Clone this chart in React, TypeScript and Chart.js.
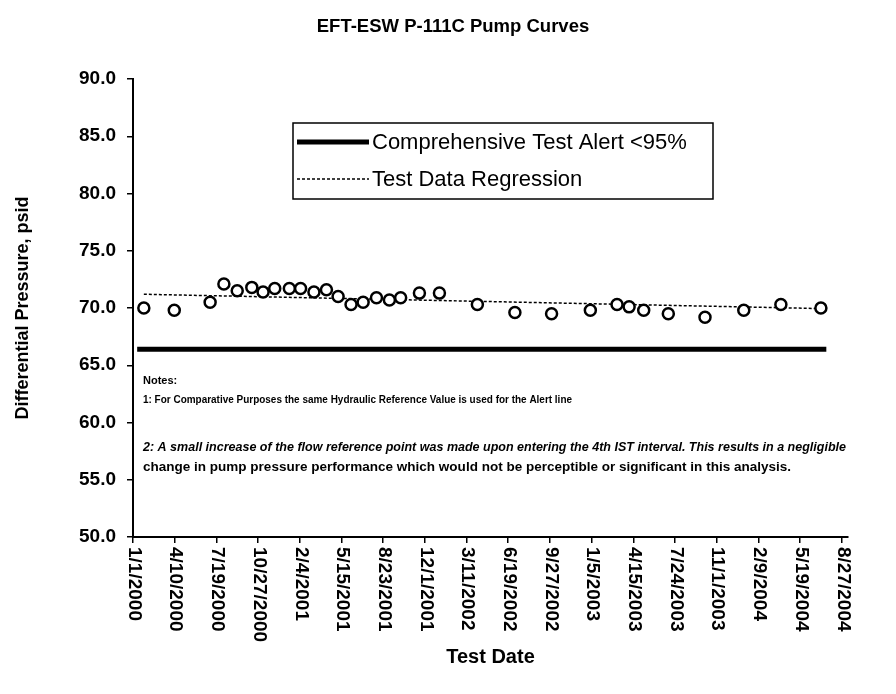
import React, { useEffect, useRef } from "react";
import { Chart, registerables } from "chart.js";

Chart.register(...registerables);

// ---- data ----
const xTickLabels = [
  "1/1/2000", "4/10/2000", "7/19/2000", "10/27/2000", "2/4/2001", "5/15/2001",
  "8/23/2001", "12/1/2001", "3/11/2002", "6/19/2002", "9/27/2002", "1/5/2003",
  "4/15/2003", "7/24/2003", "11/1/2003", "2/9/2004", "5/19/2004", "8/27/2004",
];
const yTickValues = [50, 55, 60, 65, 70, 75, 80, 85, 90];

const testDates = [
  "1/27/2000", "4/9/2000", "7/4/2000", "8/6/2000", "9/7/2000", "10/12/2000",
  "11/8/2000", "12/6/2000", "1/10/2001", "2/6/2001", "3/10/2001", "4/9/2001",
  "5/7/2001", "6/7/2001", "7/6/2001", "8/7/2001", "9/7/2001", "10/4/2001",
  "11/18/2001", "1/5/2002", "4/6/2002", "7/5/2002", "10/1/2002", "1/2/2003",
  "3/7/2003", "4/5/2003", "5/10/2003", "7/8/2003", "10/4/2003", "1/5/2004",
  "4/3/2004", "7/8/2004",
];
const testPressures = [
  70.0, 69.8, 70.5, 72.1, 71.5, 71.8, 71.4, 71.7, 71.7, 71.7, 71.4, 71.6,
  71.0, 70.3, 70.5, 70.9, 70.7, 70.9, 71.3, 71.3, 70.3, 69.6, 69.5, 69.8,
  70.3, 70.1, 69.8, 69.5, 69.2, 69.8, 70.3, 70.0,
];

const alertDates = ["1/11/2000", "7/21/2004"];
const alertValues = [66.4, 66.4];

const regressionDates = ["1/27/2000", "7/8/2004"];
const regressionValues = [71.2, 69.95];

const titleText = "EFT-ESW P-111C Pump Curves";
const yTitle = "Differential Pressure, psid";
const xTitle = "Test Date";
const alertLabel = "Comprehensive Test Alert <95%";
const regressionLabel = "Test Data Regression";
const notesLines = [
  "Notes:",
  "1: For Comparative Purposes the same Hydraulic Reference Value is used for the Alert line",
  "2: A small increase of the flow reference point was made upon entering the 4th IST interval. This results in a negligible",
  "change in pump pressure performance which would not be perceptible or significant in this analysis.",
];

// ---- helpers ----
const toDay = (s: string) => {
  const [m, d, y] = s.split("/").map(Number);
  return Math.round((Date.UTC(y, m - 1, d) - Date.UTC(2000, 0, 1)) / 86400000);
};
const pts = (dates: string[], vals: number[]) =>
  dates.map((d, i) => ({ x: toDay(d), y: vals[i] }));

const FONT = "'Liberation Sans', Arial, sans-serif";

function fitText(ctx: CanvasRenderingContext2D, text: string, x: number, y: number, w: number | null, font: string) {
  ctx.font = font;
  const m = ctx.measureText(text).width;
  ctx.save();
  ctx.translate(x, y);
  if (w) ctx.scale(w / m, 1);
  ctx.fillText(text, 0, 0);
  ctx.restore();
}

const overlayPlugin = {
  id: "overlay",
  afterDraw(chart: any) {
    const ctx: CanvasRenderingContext2D = chart.ctx;
    const ca = chart.chartArea;
    const xs = chart.scales.x;
    ctx.save();
    ctx.fillStyle = "#000";
    ctx.strokeStyle = "#000";

    // title
    ctx.font = `bold 18.5px ${FONT}`;
    ctx.textAlign = "center";
    ctx.textBaseline = "middle";
    ctx.fillText(titleText, 445, 19);

    // rotated x tick labels (reading top to bottom)
    ctx.font = `bold 19px ${FONT}`;
    ctx.textAlign = "left";
    ctx.textBaseline = "middle";
    xs.ticks.forEach((t: any, i: number) => {
      const x = xs.getPixelForValue(t.value);
      const label = xTickLabels[i];
      if (!label) return;
      ctx.save();
      ctx.translate(x + 1, ca.bottom + 10);
      ctx.rotate(Math.PI / 2);
      ctx.fillText(label, 0, 0);
      ctx.restore();
    });

    // notes
    ctx.textBaseline = "middle";
    const nx = ca.left + 10;
    fitText(ctx, notesLines[0], nx, ca.top + 302, null, `bold 11px ${FONT}`);
    fitText(ctx, notesLines[1], nx, ca.top + 321, 429, `bold 11px ${FONT}`);
    fitText(ctx, notesLines[2], nx, ca.top + 368, 703, `italic bold 13px ${FONT}`);
    fitText(ctx, notesLines[3], nx, ca.top + 388, 648, `bold 13px ${FONT}`);

    // legend box
    const bx = ca.left + 160, by = ca.top + 44, bw = 420, bh = 76;
    ctx.lineWidth = 1.5;
    ctx.strokeRect(bx, by, bw, bh);
    const ds = chart.data.datasets;
    const rows = [
      { y: by + 19, ds: ds[0] },
      { y: by + 56, ds: ds[1] },
    ];
    rows.forEach((r) => {
      ctx.save();
      ctx.lineWidth = r.ds.borderWidth;
      ctx.setLineDash(r.ds.borderDash || []);
      ctx.beginPath();
      ctx.moveTo(bx + 4, r.y);
      ctx.lineTo(bx + 76, r.y);
      ctx.stroke();
      ctx.restore();
      ctx.font = `22px ${FONT}`;
      ctx.textAlign = "left";
      ctx.fillText(r.ds.label, bx + 79, r.y + 1);
    });
    ctx.restore();
  },
};

export default function App() {
  const ref = useRef<HTMLCanvasElement>(null);
  useEffect(() => {
    if (!ref.current) return;
    const chart = new Chart(ref.current, {
      type: "scatter",
      data: {
        datasets: [
          {
            label: alertLabel,
            data: pts(alertDates, alertValues),
            showLine: true,
            borderColor: "#000",
            borderWidth: 5,
            pointRadius: 0,
            order: 3,
          } as any,
          {
            label: regressionLabel,
            data: pts(regressionDates, regressionValues),
            showLine: true,
            borderColor: "#000",
            borderWidth: 1.5,
            borderDash: [3, 2],
            pointRadius: 0,
            order: 2,
          },
          {
            label: "Test Data",
            data: pts(testDates, testPressures),
            showLine: false,
            pointStyle: "circle",
            pointRadius: 5.5,
            pointBorderWidth: 2.5,
            pointBackgroundColor: "#fff",
            pointBorderColor: "#000",
            order: 1,
          },
        ],
      },
      options: {
        animation: false,
        responsive: true,
        maintainAspectRatio: false,
        layout: { padding: { left: 0, right: 40, top: 71, bottom: 0 } },
        plugins: {
          legend: { display: false },
          tooltip: { enabled: false },
          title: { display: false },
        },
        scales: {
          x: {
            type: "linear",
            min: 0,
            max: 1715,
            afterFit: (s: any) => { s.height = 149; },
            afterBuildTicks: (s: any) => {
              s.ticks = xTickLabels.map((_, i) => ({ value: i * 100 }));
            },
            ticks: {
              stepSize: 100,
              includeBounds: false,
              autoSkip: false,
              minRotation: 90,
              maxRotation: 90,
              color: "rgba(0,0,0,0)",
              font: { family: FONT, size: 19, weight: "bold" },
              callback: (_v: any, i: number) => xTickLabels[i] ?? "",
            },
            grid: { display: true, drawOnChartArea: false, drawTicks: true, tickLength: 6, color: "#000", lineWidth: 1.5 },
            border: { display: true, color: "#000", width: 2 },
            title: {
              display: true,
              text: xTitle,
              color: "#000",
              font: { family: FONT, size: 20, weight: "bold" },
              padding: { top: 0, bottom: 17 },
            },
          },
          y: {
            min: 50,
            max: 90,
            afterFit: (s: any) => { s.width = 125; },
            afterBuildTicks: (s: any) => {
              s.ticks = yTickValues.map((v) => ({ value: v }));
            },
            ticks: {
              stepSize: 5,
              color: "#000",
              padding: 11,
              font: { family: FONT, size: 19, weight: "bold" },
              callback: (v: any) => Number(v).toFixed(1),
            },
            grid: { display: true, drawOnChartArea: false, drawTicks: true, tickLength: 6, color: "#000", lineWidth: 1.5 },
            border: { display: true, color: "#000", width: 2 },
            title: {
              display: true,
              text: yTitle,
              color: "#000",
              font: { family: FONT, size: 18, weight: "bold" },
              padding: { top: 4, bottom: 0 },
            },
          },
        },
      },
      plugins: [overlayPlugin],
    });
    return () => chart.destroy();
  }, []);

  return (
    <div style={{ width: 880, height: 678, position: "relative", background: "#fff" }}>
      <canvas ref={ref} />
    </div>
  );
}
